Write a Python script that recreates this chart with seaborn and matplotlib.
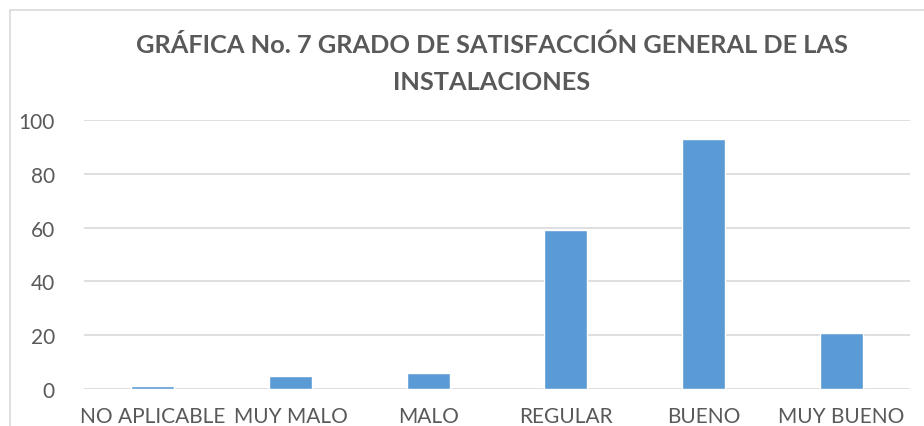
import matplotlib
matplotlib.use("Agg")
import matplotlib.pyplot as plt
import seaborn as sns
import pandas as pd
from matplotlib.patches import Rectangle

categories = ["NO APLICABLE", "MUY MALO", "MALO", "REGULAR", "BUENO", "MUY BUENO"]
values = [1, 5, 6, 59, 93, 21]
yticks = [0, 20, 40, 60, 80, 100]
title = "GRÁFICA No. 7 GRADO DE SATISFACCIÓN GENERAL DE LAS\nINSTALACIONES"

sns.set_theme(style="white")
plt.rcParams['font.family'] = ['Lato', 'DejaVu Sans']

df = pd.DataFrame({"cat": categories, "val": values})

fig = plt.figure(figsize=(9.24, 4.27), dpi=100)
ax = fig.add_axes([84/924, 1 - 390/427, (910-84)/924, (390-121)/427])

sns.barplot(data=df, x="cat", y="val", color="#5B9BD5", width=0.31, ax=ax, saturation=1)

ax.set_ylim(0, 100)
ax.set_xlim(-0.5, len(categories) - 0.5)
ax.set_yticks(yticks)
ax.set_yticklabels([str(t) for t in yticks], fontsize=15, color="#595959")
ax.set_xticks(range(len(categories)))
ax.set_xticklabels(categories, fontsize=15, color="#595959")
ax.tick_params(axis='both', length=0)
ax.tick_params(axis='y', pad=21)
ax.tick_params(axis='x', pad=12)
ax.set_xlabel("")
ax.set_ylabel("")
ax.yaxis.grid(True, color="#d9d9d9", linewidth=1.2)
ax.set_axisbelow(True)
for s in ax.spines.values():
    s.set_visible(False)

fig.text(0.532, 1 - 64/427, title, ha="center", va="center", fontsize=18.3,
         fontweight="bold", color="#595959", linespacing=1.75)

fig.patches.append(Rectangle((10/924, -0.1), 1.1, 1 - 11/427 + 0.1, transform=fig.transFigure,
                             fill=False, edgecolor="#d9d9d9", linewidth=1.2))

fig.savefig("out.png", dpi=100)
